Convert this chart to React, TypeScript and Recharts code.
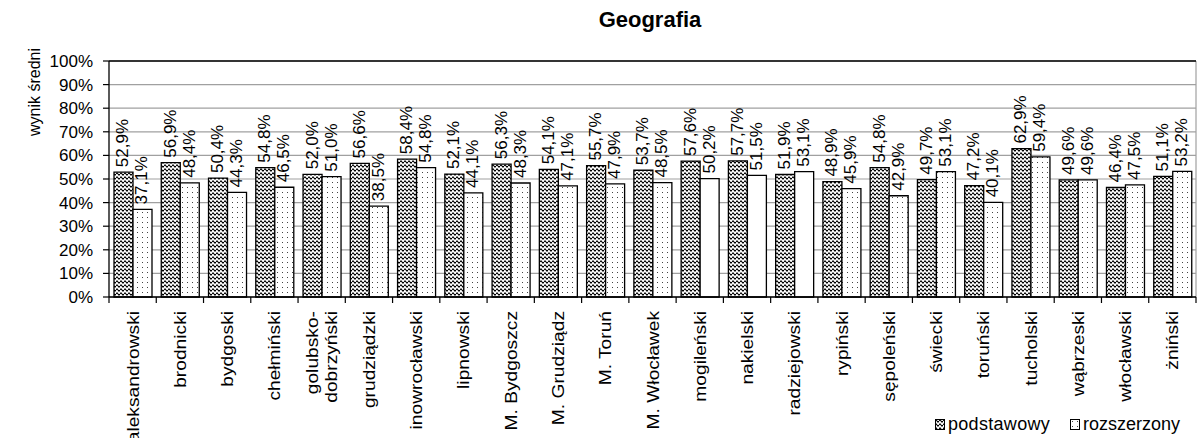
import React from 'react';
import {
  BarChart,
  Bar,
  XAxis,
  YAxis,
  CartesianGrid,
  Legend,
  LabelList,
  Cell,
  ReferenceLine,
} from 'recharts';

// powiaty (kategorie osi X)
const powiaty = [
  'aleksandrowski', 'brodnicki', 'bydgoski', 'chełmiński', 'golubsko-dobrzyński',
  'grudziądzki', 'inowrocławski', 'lipnowski', 'M. Bydgoszcz', 'M. Grudziądz',
  'M. Toruń', 'M. Włocławek', 'mogileński', 'nakielski', 'radziejowski',
  'rypiński', 'sępoleński', 'świecki', 'toruński', 'tucholski',
  'wąbrzeski', 'włocławski', 'żniński',
];

// wynik średni w %
const podstawowy = [
  52.9, 56.9, 50.4, 54.8, 52.0, 56.6, 58.4, 52.1, 56.3, 54.1, 55.7, 53.7,
  57.6, 57.7, 51.9, 48.9, 54.8, 49.7, 47.2, 62.9, 49.6, 46.4, 51.1,
];
const rozszerzony = [
  37.1, 48.4, 44.3, 46.5, 51.0, 38.5, 54.8, 44.1, 48.3, 47.1, 47.9, 48.5,
  50.2, 51.5, 53.1, 45.9, 42.9, 53.1, 40.1, 59.4, 49.6, 47.5, 53.2,
];

// powiaty, w których słupek "rozszerzony" jest bez wzoru
const bezKropek = ['mogileński', 'nakielski', 'radziejowski'];

const yTicks = [0, 10, 20, 30, 40, 50, 60, 70, 80, 90, 100];

const data = powiaty.map((name, i) => ({
  name,
  podstawowy: podstawowy[i],
  rozszerzony: rozszerzony[i],
}));

const FONT = '"Liberation Sans", Arial, sans-serif';

const fmt = (v: number) => v.toFixed(1).replace('.', ',') + '%';

const ValueLabel = (props: any) => {
  const { x, y, width, value } = props;
  const tx = x + width / 2 + 5;
  const ty = y - 5;
  return (
    <text
      x={tx}
      y={ty}
      transform={`rotate(-90 ${tx} ${ty})`}
      textAnchor="start"
      fontSize={17}
      fontFamily={FONT}
      fill="#000"
    >
      {fmt(value)}
    </text>
  );
};

const CategoryTick = (props: any) => {
  const { x, y, payload, index } = props;
  const half = payload.offset || 1087 / 46;
  const lines = String(payload.value).split(/(?<=-)/);
  const lh = 19;
  return (
    <g>
      <line x1={x - half} x2={x - half} y1={y} y2={y + 6} stroke="#000" strokeWidth={1.2} />
      {index === powiaty.length - 1 && (
        <line x1={x + half} x2={x + half} y1={y} y2={y + 6} stroke="#000" strokeWidth={1.2} />
      )}
      {lines.map((line, i) => {
        const tx = x + 6 + (i - (lines.length - 1) / 2) * lh;
        const ty = y + 14;
        return (
          <text
            key={i}
            x={0}
            y={0}
            transform={`translate(${tx} ${ty}) rotate(-90) scale(1.13 1)`}
            textAnchor="end"
            fontSize={17}
            fontFamily={FONT}
            fill="#000"
          >
            {line}
          </text>
        );
      })}
    </g>
  );
};

const LegendBox = ({ fill }: { fill: string }) => (
  <svg width={10} height={11} style={{ display: 'block' }}>
    <rect x={0.5} y={0.5} width={9} height={10} fill={fill} stroke="#000" strokeWidth={1} />
  </svg>
);

const LegendContent = () => (
  <div
    style={{
      display: 'flex',
      alignItems: 'center',
      fontFamily: FONT,
      fontSize: 18,
      color: '#000',
      whiteSpace: 'nowrap',
    }}
  >
    <LegendBox fill="url(#wzorPodst)" />
    <span style={{ marginLeft: 3, letterSpacing: 0.3 }}>podstawowy</span>
    <div style={{ marginLeft: 20 }}>
      <LegendBox fill="url(#wzorRozsz)" />
    </div>
    <span style={{ marginLeft: 3 }}>rozszerzony</span>
  </div>
);

export default function App() {
  return (
    <div
      style={{
        position: 'absolute',
        left: 0,
        top: 0,
        width: 1197,
        height: 438,
        background: '#fff',
        overflow: 'hidden',
      }}
    >
      <svg width={0} height={0} style={{ position: 'absolute' }}>
        <defs>
          <pattern id="wzorPodst" width={4} height={4} patternUnits="userSpaceOnUse">
            <rect width={4} height={4} fill="#fff" />
            <path d="M0 2 L1 0.8 L2 2 L3 3.2 L4 2" fill="none" stroke="#000" strokeWidth={1.1} />
          </pattern>
          <pattern id="wzorRozsz" width={5} height={5} patternUnits="userSpaceOnUse">
            <rect width={5} height={5} fill="#fff" />
            <rect x={2} y={2} width={1} height={1} fill="#444" />
          </pattern>
        </defs>
      </svg>

      <BarChart
        width={1197}
        height={438}
        data={data}
        margin={{ top: 61, right: 1, bottom: 0, left: 0 }}
        barGap={0}
        barSize={19}
      >
        <CartesianGrid
          vertical={true}
          verticalPoints={[1196]}
          stroke="#a0a0a0"
          strokeWidth={1.2}
        />
        <XAxis
          dataKey="name"
          interval={0}
          height={141}
          tickSize={0}
          tickMargin={0}
          tickLine={false}
          axisLine={{ stroke: '#000', strokeWidth: 1.3 }}
          tick={<CategoryTick />}
        />
        <YAxis
          type="number"
          domain={[0, 100]}
          ticks={yTicks}
          interval={0}
          width={109}
          tickFormatter={(v: number) => `${v}%`}
          tick={{ fill: '#000', fontSize: 17, fontFamily: FONT }}
          axisLine={{ stroke: '#000', strokeWidth: 1.3 }}
          tickLine={{ stroke: '#000', strokeWidth: 1.2 }}
          tickSize={6}
          tickMargin={10}
        />
        <ReferenceLine y={100} stroke="#000" strokeWidth={1.3} />
        <Legend
          layout="vertical"
          verticalAlign="middle"
          align="center"
          wrapperStyle={{ left: 935, top: 414, width: 262 }}
          content={<LegendContent />}
        />
        <Bar
          dataKey="podstawowy"
          fill="url(#wzorPodst)"
          stroke="#000"
          strokeWidth={1.3}
          isAnimationActive={false}
        >
          <LabelList dataKey="podstawowy" content={<ValueLabel />} />
        </Bar>
        <Bar
          dataKey="rozszerzony"
          fill="url(#wzorRozsz)"
          stroke="#000"
          strokeWidth={1.3}
          isAnimationActive={false}
        >
          {data.map((d) => (
            <Cell
              key={d.name}
              fill={bezKropek.includes(d.name) ? '#fff' : 'url(#wzorRozsz)'}
            />
          ))}
          <LabelList dataKey="rozszerzony" content={<ValueLabel />} />
        </Bar>
      </BarChart>

      <svg
        width={1197}
        height={438}
        style={{ position: 'absolute', left: 0, top: 0, pointerEvents: 'none' }}
      >
        <text
          x={650}
          y={27}
          textAnchor="middle"
          fontWeight="bold"
          fontSize={22}
          fontFamily={FONT}
          fill="#000"
        >
          Geografia
        </text>
        <text
          x={40}
          y={48}
          transform="rotate(-90 40 48)"
          textAnchor="end"
          fontSize={16}
          fontFamily={FONT}
          fill="#000"
        >
          wynik średni
        </text>
      </svg>
    </div>
  );
}
